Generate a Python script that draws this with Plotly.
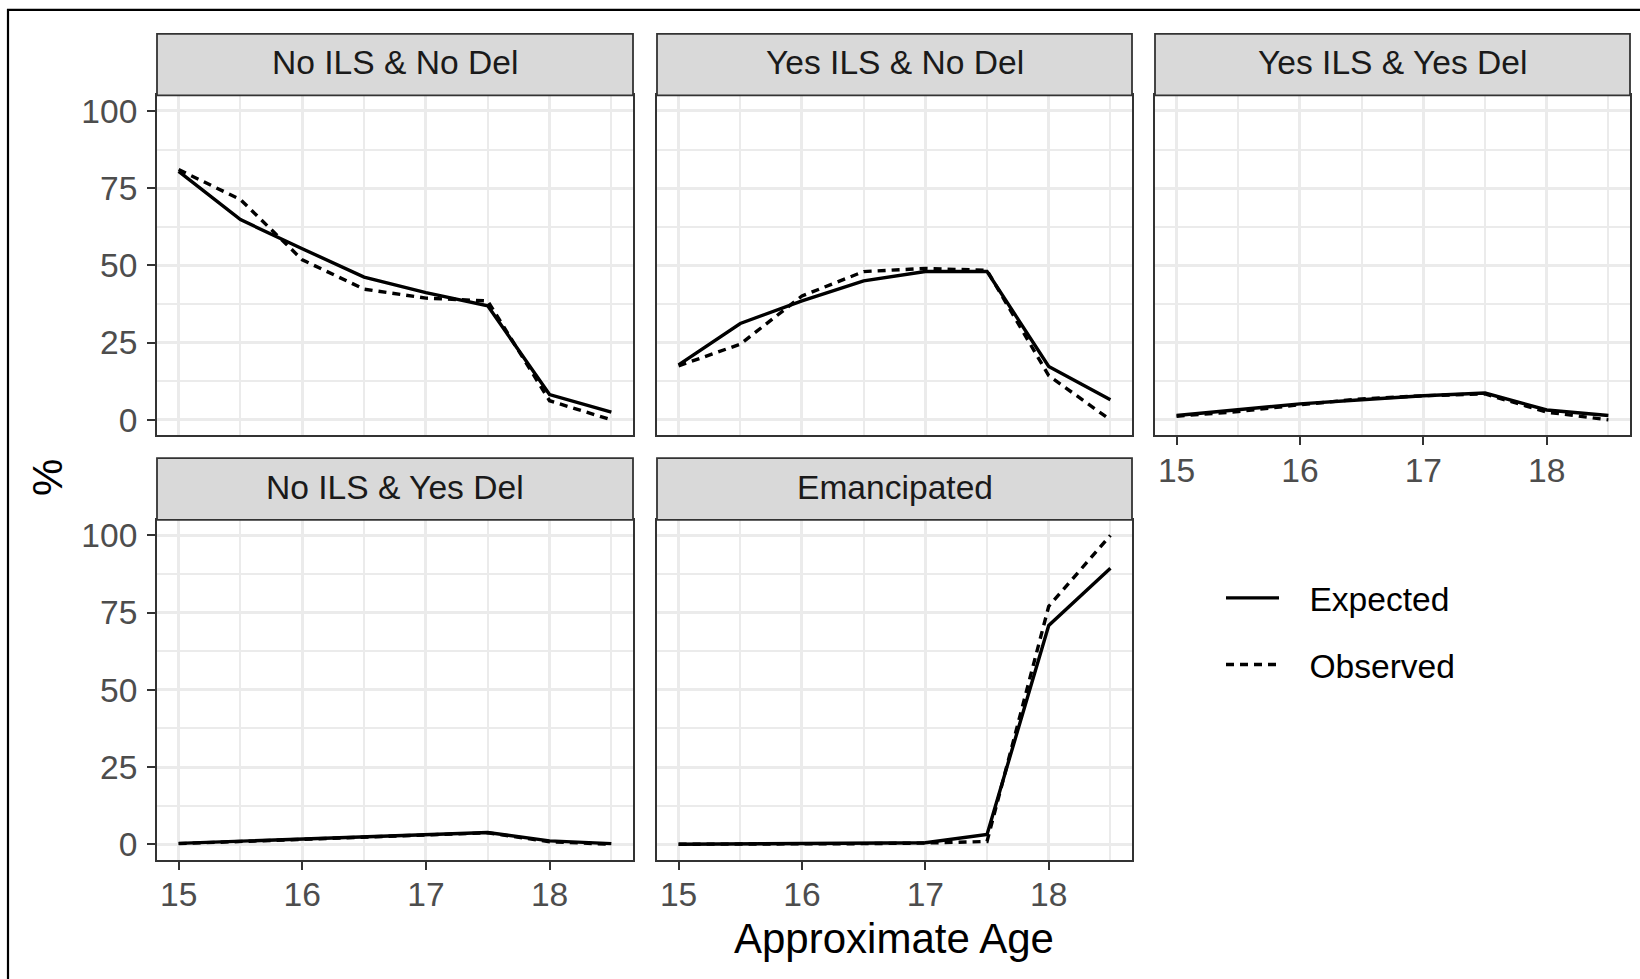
import plotly.graph_objects as go

W, H = 1640, 979

ages = [15, 15.5, 16, 16.5, 17, 17.5, 18, 18.5]

panel_titles = [
    "No ILS & No Del",
    "Yes ILS & No Del",
    "Yes ILS & Yes Del",
    "No ILS & Yes Del",
    "Emancipated",
]

expected_no_ils_no_del = [80.4, 64.8, 55.4, 46.2, 41.2, 36.9, 8.2, 2.5]
observed_no_ils_no_del = [81.0, 71.3, 51.8, 42.3, 39.4, 38.5, 6.2, 0.0]

expected_yes_ils_no_del = [17.8, 31.2, 38.5, 45.0, 48.0, 48.0, 17.3, 6.5]
observed_yes_ils_no_del = [17.5, 24.5, 40.1, 48.0, 49.0, 48.4, 14.3, 0.0]

expected_yes_ils_yes_del = [1.4, 3.2, 5.2, 6.5, 7.8, 8.7, 3.2, 1.4]
observed_yes_ils_yes_del = [1.2, 2.7, 4.9, 6.8, 7.8, 8.4, 2.5, 0.0]

expected_no_ils_yes_del = [0.3, 1.0, 1.6, 2.4, 3.0, 3.8, 1.1, 0.2]
observed_no_ils_yes_del = [0.2, 0.9, 1.5, 2.3, 2.9, 3.7, 0.8, 0.0]

expected_emancipated = [0.0, 0.1, 0.2, 0.3, 0.5, 3.2, 70.8, 89.3]
observed_emancipated = [0.0, 0.0, 0.1, 0.2, 0.4, 0.9, 77.0, 100.0]

expected_series = [expected_no_ils_no_del, expected_yes_ils_no_del, expected_yes_ils_yes_del,
                   expected_no_ils_yes_del, expected_emancipated]
observed_series = [observed_no_ils_no_del, observed_yes_ils_no_del, observed_yes_ils_yes_del,
                   observed_no_ils_yes_del, observed_emancipated]

x_ticks = [15, 16, 17, 18]
y_ticks = [0, 25, 50, 75, 100]

FONT = "Liberation Sans, Arial, sans-serif"
SMALL = 33.6
BIG = 42
KEY_GAP = "\u00a0\u00a0\u2009"

# panel rectangles in page pixels: (left, right) and (top, bottom)
cols = [(157, 633), (657, 1132), (1155, 1630)]
rows = [(93, 435), (520, 862)]
strip_h = 62
cells = [(0, 0), (0, 1), (0, 2), (1, 0), (1, 1)]

def px(x):
    return x / W

def py(y):
    return 1 - y / H

fig = go.Figure()
layout = dict(
    width=W, height=H,
    margin=dict(l=0, r=0, t=0, b=0),
    paper_bgcolor="white", plot_bgcolor="white",
    font=dict(family=FONT, size=SMALL, color="#4d4d4d"),
    showlegend=True,
)
shapes = []
annotations = []

for i, (r, c) in enumerate(cells):
    k = "" if i == 0 else str(i + 1)
    xl, xr = cols[c]
    yt, yb = rows[r]
    show_x = (r == 1) or (c == 2)
    show_y = (c == 0)
    layout["xaxis" + k] = dict(
        domain=[px(xl), px(xr)], anchor="y" + k,
        range=[14.825, 18.675], tickvals=x_ticks,
        showticklabels=show_x, ticks="outside" if show_x else "",
        ticklen=8, tickwidth=2.4, tickcolor="#333333",
        ticklabelstandoff=-4,
        tickfont=dict(family=FONT, size=SMALL, color="#4d4d4d"),
        showgrid=True, gridcolor="#ebebeb", gridwidth=3,
        minor=dict(dtick=0.5, tick0=15, showgrid=True, gridcolor="#ebebeb", gridwidth=1.6),
        showline=True, mirror=True, linecolor="#333333", linewidth=1.8,
        zeroline=False, fixedrange=True,
    )
    layout["yaxis" + k] = dict(
        domain=[py(yb), py(yt)], anchor="x" + k,
        range=[-5, 105], tickvals=y_ticks,
        showticklabels=show_y, ticks="outside" if show_y else "",
        ticklen=8, tickwidth=2.4, tickcolor="#333333",
        ticklabelstandoff=3,
        tickfont=dict(family=FONT, size=SMALL, color="#4d4d4d"),
        showgrid=True, gridcolor="#ebebeb", gridwidth=3,
        minor=dict(dtick=12.5, tick0=0, showgrid=True, gridcolor="#ebebeb", gridwidth=1.6),
        showline=True, mirror=True, linecolor="#333333", linewidth=1.8,
        zeroline=False, fixedrange=True,
    )

    fig.add_trace(go.Scatter(
        x=ages, y=expected_series[i], mode="lines", name=KEY_GAP + "Expected",
        line=dict(color="black", width=3.4), legendgroup="exp",
        showlegend=(i == 0), xaxis="x" + k, yaxis="y" + k,
    ))
    fig.add_trace(go.Scatter(
        x=ages, y=observed_series[i], mode="lines", name=KEY_GAP + "Observed",
        line=dict(color="black", width=3.4, dash="8px,6px"), legendgroup="obs",
        showlegend=(i == 0), xaxis="x" + k, yaxis="y" + k,
    ))

    # facet strip
    shapes.append(dict(
        type="rect", xref="paper", yref="paper",
        x0=px(xl), x1=px(xr), y0=py(yt), y1=py(yt - strip_h),
        fillcolor="#d9d9d9", line=dict(color="#333333", width=1.8), layer="above",
    ))
    annotations.append(dict(
        text=panel_titles[i], xref="paper", yref="paper",
        x=px((xl + xr) / 2), y=py(yt - strip_h / 2 - 2),
        xanchor="center", yanchor="middle", showarrow=False,
        font=dict(family=FONT, size=SMALL, color="#1a1a1a"),
    ))

# outer frame
shapes.append(dict(
    type="rect", xref="paper", yref="paper",
    x0=px(8), y1=py(7), x1=px(1660), y0=py(995),
    line=dict(color="black", width=2.2), fillcolor="rgba(0,0,0,0)", layer="above",
))

annotations.append(dict(
    text="Approximate Age", xref="paper", yref="paper",
    x=px((157 + 1630) / 2), y=py(941), xanchor="center", yanchor="middle",
    showarrow=False, font=dict(family=FONT, size=BIG, color="black"),
))
annotations.append(dict(
    text="%", xref="paper", yref="paper", textangle=-90,
    x=px(47), y=py(478), xanchor="center", yanchor="middle",
    showarrow=False, font=dict(family=FONT, size=BIG, color="black"),
))

layout["shapes"] = shapes
layout["annotations"] = annotations
layout["legend"] = dict(
    x=px(1221), y=py(570), xanchor="left", yanchor="top",
    bgcolor="rgba(0,0,0,0)", borderwidth=0,
    font=dict(family=FONT, size=SMALL, color="black"),
    itemwidth=53, traceorder="grouped", tracegroupgap=20,
)

fig.update_layout(**layout)
fig.write_html("out.html")
